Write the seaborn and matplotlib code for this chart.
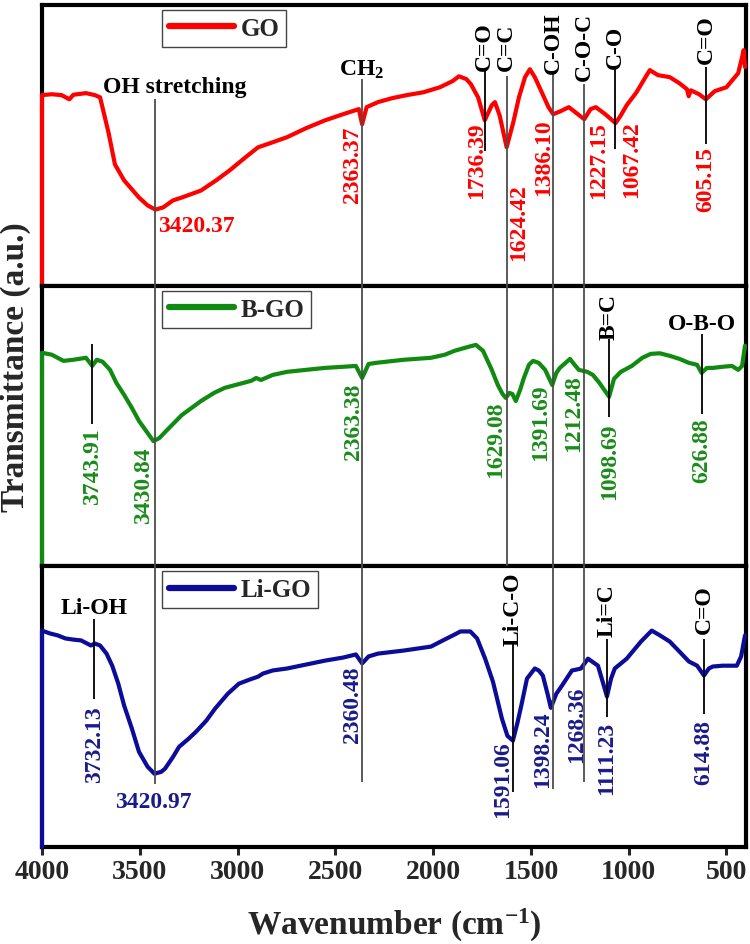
import matplotlib
matplotlib.use('Agg')
import matplotlib.pyplot as plt
from matplotlib.lines import Line2D
import seaborn as sns
import pandas as pd

# ========== Spectra (wavenumber, transmittance a.u.) ==========
wn_go = [4000, 4000, 3950, 3900, 3860, 3840, 3820, 3775, 3730, 3703, 3660, 3627, 3580, 3504, 3460,
         3420, 3380, 3330, 3285, 3187, 3110, 3040, 2960, 2895, 2820, 2747, 2650, 2553, 2460,
         2380, 2363, 2340, 2282, 2210, 2134, 2050, 1965, 1900, 1868, 1830, 1807, 1770, 1736,
         1700, 1684, 1660, 1624, 1590, 1561, 1530, 1505, 1480, 1449, 1410, 1386, 1350, 1306,
         1260, 1227, 1195, 1168, 1120, 1067, 1040, 1010, 960, 920, 892, 850, 790, 740, 702,
         693, 682, 640, 605, 560, 500, 440, 420, 412, 405]
t_go = [0, 67.9, 68.2, 67.9, 66.4, 68.0, 68.2, 68.6, 67.9, 67.1, 54.6, 43.2, 37.5, 31.4, 28.6,
        27.1, 27.9, 30.4, 31.4, 33.9, 37.5, 41.1, 45.7, 49.3, 51.1, 52.9, 56.1, 58.9, 61.1,
        62.9, 57.5, 63.6, 65.4, 66.8, 67.9, 68.9, 70.7, 72.9, 74.6, 73.6, 71.8, 67.1, 58.9,
        64.3, 65.4, 60.7, 49.3, 58.2, 67.1, 74.3, 77.1, 74.3, 69.6, 63.6, 61.1, 62.1, 63.6,
        61.1, 59.3, 62.9, 63.6, 61.1, 57.9, 60.7, 64.3, 68.9, 73.6, 76.8, 75.0, 74.3, 72.1, 70.0,
        67.5, 69.6, 68.2, 66.4, 69.3, 70.7, 75.7, 81.4, 83.9, 77.9]

wn_bgo = [4000, 4000, 3950, 3890, 3840, 3775, 3743, 3720, 3690, 3652, 3620, 3580, 3540, 3504,
          3460, 3430, 3400, 3360, 3285, 3187, 3120, 3065, 2990, 2930, 2905, 2880, 2820, 2747,
          2650, 2553, 2460, 2395, 2363, 2330, 2292, 2150, 2011, 1940, 1890, 1820, 1781, 1745,
          1700, 1669, 1645, 1628, 1610, 1595, 1577, 1555, 1536, 1510, 1489, 1460, 1427, 1391,
          1370, 1352, 1300, 1280, 1255, 1212, 1183, 1150, 1100, 1075, 1040, 984, 930, 887, 840,
          790, 740, 692, 650, 627, 600, 570, 520, 472, 440, 420, 405]
t_bgo = [0, 76.1, 75.4, 73.2, 73.6, 74.3, 71.4, 73.6, 72.9, 70.0, 65.4, 61.1, 56.4, 51.8,
         47.5, 44.6, 45.7, 48.6, 53.9, 58.9, 61.8, 63.6, 65.0, 66.1, 67.1, 66.4, 68.2, 69.3,
         70.0, 70.7, 71.1, 71.4, 67.1, 72.1, 72.5, 73.6, 74.3, 75.4, 76.8, 78.2, 78.9, 76.8,
         70.0, 64.6, 61.4, 60.0, 61.8, 61.4, 58.9, 62.9, 67.1, 71.8, 73.2, 72.5, 70.0, 64.6,
         68.9, 70.7, 73.9, 72.1, 70.0, 69.3, 68.2, 65.4, 60.4, 66.8, 69.3, 71.4, 74.3, 75.7, 75.9,
         75.0, 73.9, 72.5, 71.8, 68.9, 70.7, 70.7, 71.1, 71.4, 70.0, 71.4, 78.6]

wn_ligo = [4000, 4000, 3960, 3920, 3880, 3840, 3800, 3750, 3730, 3703, 3670, 3641, 3610, 3580,
           3540, 3504, 3460, 3425, 3390, 3371, 3330, 3299, 3250, 3212, 3160, 3115, 3050, 2993,
           2940, 2895, 2870, 2820, 2747, 2650, 2553, 2460, 2395, 2363, 2330, 2282, 2150, 2011,
           1950, 1890, 1860, 1810, 1775, 1734, 1694, 1648, 1620, 1592, 1570, 1549, 1520, 1480,
           1460, 1439, 1415, 1398, 1370, 1341, 1290, 1268, 1244, 1208, 1157, 1130, 1111, 1090,
           1071, 1010, 937, 882, 840, 790, 740, 692, 650, 615, 590, 570, 520, 447, 425, 405]
t_ligo = [0, 77.1, 76.1, 75.4, 74.3, 73.9, 73.6, 71.8, 72.5, 71.8, 68.9, 64.6, 58.2, 50.4,
          42.1, 33.9, 28.6, 26.1, 26.8, 27.9, 32.1, 35.7, 38.6, 41.1, 45.0, 49.3, 54.6, 58.2,
          59.6, 60.7, 61.8, 62.9, 63.6, 65.0, 66.4, 67.5, 68.6, 65.4, 67.9, 68.9, 70.0, 71.4,
          73.6, 75.7, 76.8, 76.8, 74.3, 67.1, 58.9, 45.7, 39.6, 37.9, 43.9, 50.4, 60.0, 63.6,
          62.9, 61.1, 54.6, 49.6, 54.6, 57.5, 62.9, 63.2, 63.6, 67.1, 64.6, 58.2, 53.6, 60.0,
          63.6, 67.1, 73.2, 77.1, 75.4, 73.2, 69.6, 66.1, 64.6, 61.1, 63.6, 64.3, 64.6, 64.6, 67.9, 75.4]

# ========== Peak labels and band assignments ==========
go_peaks = ['3420.37', '2363.37', '1736.39', '1624.42', '1386.10', '1227.15', '1067.42', '605.15']
go_groups = ['OH stretching', 'CH$_2$', 'C=O', 'C=C', 'C-OH', 'C-O-C', 'C-O', 'C=O']
bgo_peaks = ['3743.91', '3430.84', '2363.38', '1629.08', '1391.69', '1212.48', '1098.69', '626.88']
bgo_groups = ['', '', '', '', '', '', 'B=C', 'O-B-O']
ligo_peaks = ['3732.13', '3420.97', '2360.48', '1591.06', '1398.24', '1268.36', '1111.23', '614.88']
ligo_groups = ['Li-OH', '', '', 'Li-C-O', '', '', 'Li=C', 'C=O']

# ========== Layout (pixels, figure is 750x945) ==========
W_PX, H_PX = 750, 945
X0, X1 = 42, 746
Y_TOP, Y_BOT = 6, 848
PANEL_H = (Y_BOT - Y_TOP) / 3
WN_PER_PX = 3600 / (X1 - X0)

# value label: (dx px, y px, rotated)
go_lab = [(3, 227, False), (-10, 165, True), (-8, 161, True), (12, 223, True),
          (-10, 158, True), (14, 161, True), (16, 160, True), (0, 180, True)]
bgo_lab = [(0, 467, True), (-10, 486, True), (-9, 422, True), (-10, 440, True),
           (-11, 423, True), (-13, 414, True), (0, 462, True), (0, 451, True)]
ligo_lab = [(0, 745, True), (-2, 803, False), (-10, 705, True), (-10, 780, True),
            (-8, 750, True), (0, 725, True), (0, 758, True), (0, 753, True)]
# group label: (dx px, y px, rotated)
go_grp = [(19, 88, False), (0, 70, False), (0, 47, True), (0, 47, True),
          (0, 43, True), (0, 47, True), (0, 47, True), (0, 40, True)]
bgo_grp = [None] * 6 + [(0, 317, True), (0, 325, False)]
ligo_grp = [(0, 608, False), None, None, (0, 609, True), None, None, (0, 611, True), (0, 610, True)]
# guide line: (y0, y1, long grey or short black)
go_guide = [(100, 785, 'g'), (80, 783, 'g'), (72, 152, 'k'), (77, 567, 'g'),
            (75, 790, 'g'), (85, 783, 'g'), (68, 150, 'k'), (68, 145, 'k')]
bgo_guide = [(345, 425, 'k'), None, None, None, None, None, (340, 418, 'k'), (335, 415, 'k')]
ligo_guide = [(620, 700, 'k'), None, None, (645, 793, 'k'), None, None, (640, 718, 'k'), (640, 715, 'k')]

panels = [
    ('GO', wn_go, t_go, '#FF0000', '#FF0000', go_peaks, go_groups, go_lab, go_grp, go_guide),
    ('B-GO', wn_bgo, t_bgo, '#108A10', '#1A8C1A', bgo_peaks, bgo_groups, bgo_lab, bgo_grp, bgo_guide),
    ('Li-GO', wn_ligo, t_ligo, '#0C0C98', '#1A1A8A', ligo_peaks, ligo_groups, ligo_lab, ligo_grp, ligo_guide),
]

# ========== Style ==========
sns.set_style('white')
plt.rcParams['font.family'] = ['Liberation Serif', 'DejaVu Serif']
plt.rcParams['font.weight'] = 'bold'
plt.rcParams['mathtext.fontset'] = 'custom'
plt.rcParams['mathtext.rm'] = 'Liberation Serif:bold'
plt.rcParams['mathtext.it'] = 'Liberation Serif:bold'
plt.rcParams['mathtext.bf'] = 'Liberation Serif:bold'

fig = plt.figure(figsize=(W_PX / 100, H_PX / 100), dpi=100)
L, W = X0 / W_PX, (X1 - X0) / W_PX

axes = []
for i, (name, wn, tr, col, tcol, *_rest) in enumerate(panels):
    top = Y_TOP + i * PANEL_H
    ax = fig.add_axes([L, 1 - (top + PANEL_H) / H_PX, W, PANEL_H / H_PX])
    df = pd.DataFrame({'wn': wn, 't': tr})
    sns.lineplot(data=df, x='wn', y='t', sort=False, estimator=None, color=col, lw=3.0, ax=ax)
    ln = ax.lines[-1]
    ln.set_clip_on(False)
    ln.set_zorder(3)
    ax.set_xlim(4000, 400)
    ax.set_ylim(0, 100)
    ax.set_yticks([])
    ax.set_xlabel('')
    ax.set_ylabel('')
    for s in ax.spines.values():
        s.set_linewidth(3)
        s.set_color('black')
    handle = Line2D([], [], color=col, lw=4.5, solid_capstyle='round')
    leg = ax.legend([handle], [name], loc='upper left',
                    bbox_to_anchor=((162 - X0) / (X1 - X0), 1 - 5 / PANEL_H),
                    borderaxespad=0, frameon=True, fancybox=False, framealpha=1,
                    edgecolor='#444444', handlelength=2.6, handletextpad=0.25,
                    borderpad=0.28, prop={'size': 18, 'weight': 'bold'})
    leg.get_frame().set_linewidth(1.0)
    if i < 2:
        ax.set_xticks([])
    else:
        ax.set_xticks(range(4000, 0, -500))
        ax.tick_params(axis='x', direction='out', length=6, width=2.2, pad=3,
                       labelsize=20, bottom=True)
        for lab in ax.get_xticklabels():
            lab.set_fontweight('bold')
    axes.append(ax)

# ========== Annotation layer (x: wavenumber, y: pixels from top) ==========
ann = fig.add_axes([L, 0, W, 1], zorder=10)
ann.set_xlim(4000, 400)
ann.set_ylim(H_PX, 0)
ann.patch.set_alpha(0)
ann.axis('off')

for name, wn, tr, col, tcol, peaks, groups, lab, grp, guide in panels:
    for k, p in enumerate(peaks):
        x = float(p)
        if guide[k] is not None:
            y0, y1, kind = guide[k]
            if kind == 'g':
                ann.plot([x, x], [y0, y1], color='#4d4d4d', lw=1.3, solid_capstyle='butt')
            else:
                ann.plot([x, x], [y0, y1], color='black', lw=1.3, solid_capstyle='butt')
        dx, y, rot = lab[k]
        if rot:
            ann.text(x - dx * WN_PER_PX, y, p, color=tcol, fontsize=17, fontweight='bold',
                     rotation=90, ha='center', va='center')
        else:
            ann.text(x - dx * WN_PER_PX, y, p, color=tcol, fontsize=17, fontweight='bold',
                     ha='left' if dx > 0 else 'center', va='center')
        if grp[k] is not None and groups[k]:
            gdx, gy, grot = grp[k]
            ann.text(x - gdx * WN_PER_PX, gy, groups[k], color='black', fontsize=17,
                     fontweight='bold', rotation=90 if grot else 0, ha='center', va='center')

fig.text(394 / W_PX, 1 - 925 / H_PX, 'Wavenumber (cm$^{-1}$)', fontsize=24,
         fontweight='bold', ha='center', va='center')
fig.text(15 / W_PX, 1 - 367 / H_PX, 'Transmittance (a.u.)', fontsize=24,
         fontweight='bold', rotation=90, ha='center', va='center')

fig.savefig('out.png', dpi=100)
